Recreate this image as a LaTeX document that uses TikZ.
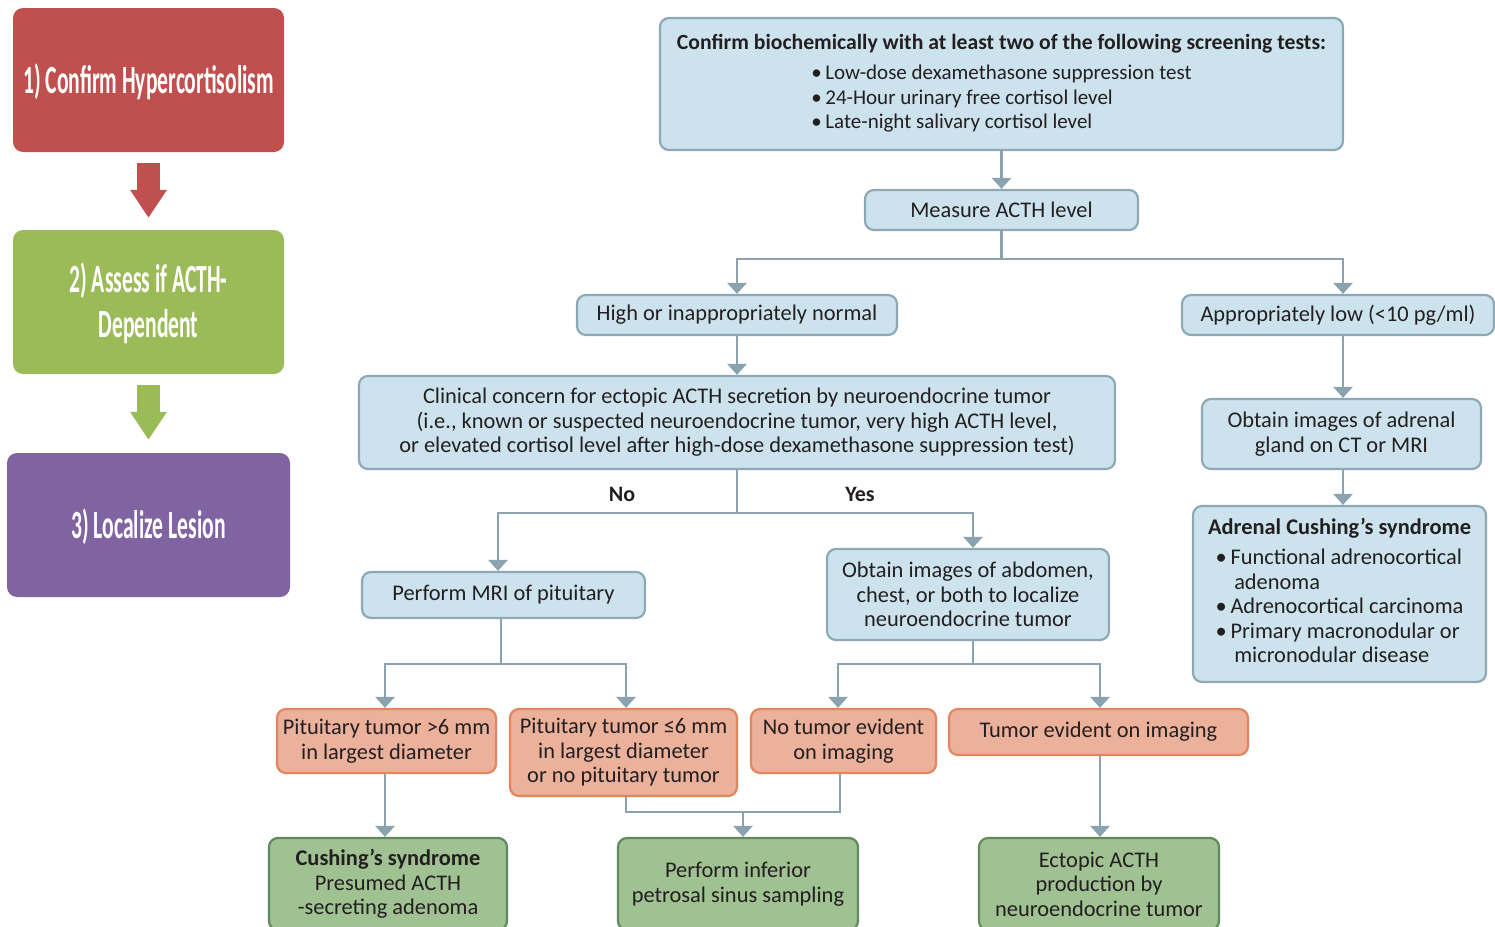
\documentclass[tikz,border=0pt]{standalone}
\usepackage{fontspec}
\setmainfont{Carlito}
\usetikzlibrary{arrows.meta,calc}
\definecolor{bfill}{HTML}{CCE3EE}
\definecolor{bline}{HTML}{8EA9B6}
\definecolor{ofill}{HTML}{EBB19B}
\definecolor{oline}{HTML}{E3855F}
\definecolor{gfill}{HTML}{A0C191}
\definecolor{gline}{HTML}{5F8A5D}
\definecolor{arrc}{HTML}{8BA3AE}
\definecolor{txt}{HTML}{231F20}
\definecolor{redc}{HTML}{C0504D}
\definecolor{grnc}{HTML}{9BBB59}
\definecolor{purc}{HTML}{8064A2}
\newcommand\lefttxt[1]{\raisebox{-4pt}[\height][\depth]{\scalebox{0.54}[1]{\bfseries\fontsize{40}{45}\selectfont\begin{tabular}{@{}c@{}}#1\end{tabular}}}}
\tikzset{
  box/.style={draw, line width=2.2pt, rounded corners=9pt, align=center, inner sep=0pt,
    font=\fontsize{22.4}{24.5}\selectfont, text=txt},
  bluebox/.style={box, draw=bline, fill=bfill},
  orbox/.style={box, draw=oline, fill=ofill},
  grbox/.style={box, draw=gline, fill=gfill},
  conn/.style={draw=arrc, line width=2.6pt, -{Triangle[width=19pt,length=11pt]}},
  plainline/.style={draw=arrc, line width=2.6pt},
  lbox/.style={rounded corners=10pt, inner sep=0pt, text=white, align=center},
  bigarrow/.style={line width=23pt, -{Triangle[width=35pt,length=28pt]}},
  lbl/.style={font=\bfseries\fontsize{22}{24.5}\selectfont, text=txt, inner sep=0pt}
}
\begin{document}
\begin{tikzpicture}[x=1pt,y=-1pt]
\clip (0,0) rectangle (1495,926);
\fill[white] (0,0) rectangle (1495,926);
% left column
\node[lbox, fill=redc, minimum width=271pt, minimum height=144pt] (s1) at (148.5,80) {\lefttxt{1) Confirm Hypercortisolism}};
\node[lbox, fill=grnc, minimum width=271pt, minimum height=144pt] (s2) at (148.5,302) {\lefttxt{2) Assess if ACTH-\\Dependent}};
\node[lbox, fill=purc, minimum width=283pt, minimum height=144pt] (s3) at (148.5,525) {\lefttxt{3) Localize Lesion}};
\draw[bigarrow, redc] ($(s1.south)+(0,11)$) -- ($(s2.north)+(0,-12)$);
\draw[bigarrow, grnc] ($(s2.south)+(0,11)$) -- ($(s3.north)+(0,-13)$);
% main flow
\node[bluebox, minimum width=683pt, minimum height=132pt] (top) at (1001.5,84)
 {\raisebox{-2pt}[\height][\depth]{\bfseries\fontsize{21.7}{24}\selectfont Confirm biochemically with at least two of the following screening tests:}\\[11pt]
  {\fontsize{21}{24.5}\selectfont\begin{tabular}{@{}l@{}}•\,Low-dose dexamethasone suppression test\\ •\,24-Hour urinary free cortisol level\\ •\,Late-night salivary cortisol level\end{tabular}}};
\node[bluebox, minimum width=273pt, minimum height=40pt] (meas) at (1001.5,210) {Measure ACTH level};
\node[bluebox, minimum width=320pt, minimum height=40pt] (high) at (737,315) {High or inappropriately normal};
\node[bluebox, minimum width=312pt, minimum height=40pt] (low) at (1338,315) {Appropriately low (<10 pg/ml)};
\node[bluebox, minimum width=756pt, minimum height=93pt] (clin) at (737,422.5)
 {Clinical concern for ectopic ACTH secretion by neuroendocrine tumor\\(i.e., known or suspected neuroendocrine tumor, very high ACTH level,\\or elevated cortisol level after high-dose dexamethasone suppression test)};
\node[bluebox, minimum width=279pt, minimum height=70pt] (adimg) at (1341.5,434) {Obtain images of adrenal\\gland on CT or MRI};
\node[bluebox, minimum width=293pt, minimum height=176pt] (adcs) at (1339.5,594)
 {{\bfseries Adrenal Cushing’s syndrome}\\[9pt]
  \begin{tabular}{@{}l@{}}•\,Functional adrenocortical\\ \hphantom{•\,}\,adenoma\\ •\,Adrenocortical carcinoma\\ •\,Primary macronodular or\\ \hphantom{•\,}\,micronodular disease\end{tabular}};
\node[bluebox, minimum width=283pt, minimum height=46pt] (mri) at (503.5,595) {Perform MRI of pituitary};
\node[bluebox, minimum width=282pt, minimum height=91pt] (abd) at (968,594.5) {Obtain images of abdomen,\\chest, or both to localize\\neuroendocrine tumor};
\node[orbox, minimum width=219pt, minimum height=64pt] (pbig) at (386.5,741) {Pituitary tumor >6 mm\\in largest diameter};
\node[orbox, minimum width=227pt, minimum height=87pt] (psmall) at (623.5,752.5) {Pituitary tumor ≤6 mm\\in largest diameter\\or no pituitary tumor};
\node[orbox, minimum width=185pt, minimum height=64pt] (notum) at (843.5,741) {No tumor evident\\on imaging};
\node[orbox, minimum width=299pt, minimum height=46pt] (tum) at (1098.5,732) {Tumor evident on imaging};
\node[grbox, minimum width=238pt, minimum height=92pt] (cush) at (388,884) {{\bfseries Cushing’s syndrome}\\Presumed ACTH\\-secreting adenoma};
\node[grbox, minimum width=240pt, minimum height=92pt] (ipss) at (738,884) {Perform inferior\\petrosal sinus sampling};
\node[grbox, minimum width=240pt, minimum height=92pt] (ect) at (1099,884) {Ectopic ACTH\\production by\\neuroendocrine tumor};
% connectors
\draw[conn] (top.south) -- (meas.north);
\draw[conn] (meas.south) -- ++(0,28) -| (high.north);
\draw[conn] (meas.south) -- ++(0,28) -| (1343,0 |- low.north);
\draw[conn] (high.south) -- (clin.north);
\draw[conn] (1343,0 |- low.south) -- (1343,0 |- adimg.north);
\draw[conn] (1343,0 |- adimg.south) -- (1343,0 |- adcs.north);
\draw[conn] (clin.south) -- ++(0,43) -| (498,0 |- mri.north);
\draw[conn] (clin.south) -- ++(0,43) -| (973,0 |- abd.north);
\node[lbl] (no) at (622,494) {No};
\node[lbl] (yes) at (860,494) {Yes};
\draw[conn] (501,0 |- mri.south) -- (501,664) -| (385,0 |- pbig.north);
\draw[conn] (501,0 |- mri.south) -- (501,664) -| (626,0 |- psmall.north);
\draw[conn] (973,0 |- abd.south) -- (973,664) -| (838,0 |- notum.north);
\draw[conn] (973,0 |- abd.south) -- (973,664) -| (1100,0 |- tum.north);
\draw[conn] (385,0 |- pbig.south) -- (385,0 |- cush.north);
\coordinate (join) at (743,812);
\draw[plainline] (626,0 |- psmall.south) |- (join) -| (840,0 |- notum.south);
\draw[conn] (join) -- (743,0 |- ipss.north);
\draw[conn] (1100,0 |- tum.south) -- (1100,0 |- ect.north);
\end{tikzpicture}
\end{document}
